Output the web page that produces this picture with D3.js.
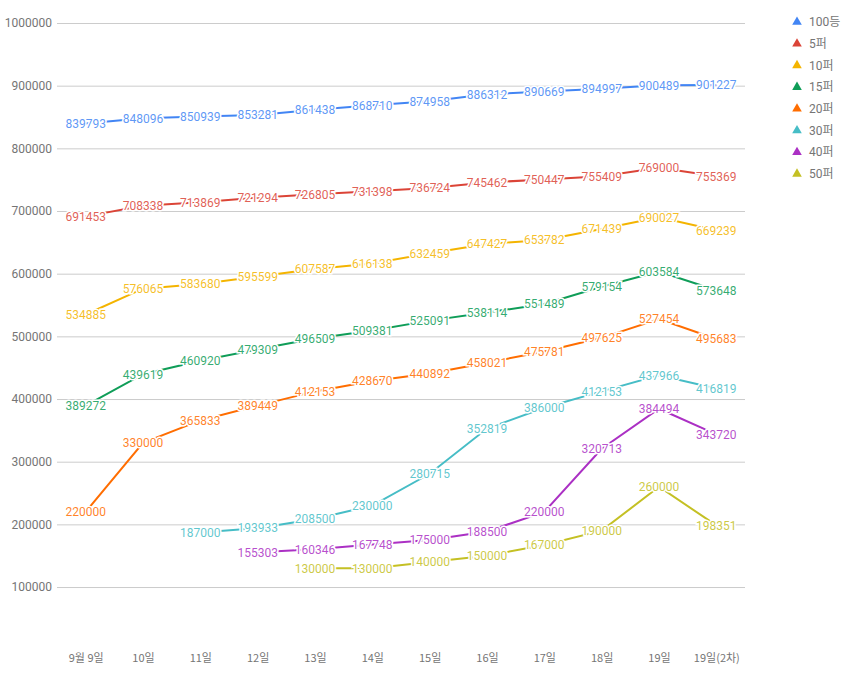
<!DOCTYPE html>
<html>
<head>
<meta charset="utf-8">
<script src="https://cdn.jsdelivr.net/npm/d3@7"></script>
<style>
  html, body { margin: 0; padding: 0; background: #fff; }
  svg { display: block; }
</style>
</head>
<body>
<svg id="chart" width="850" height="673"></svg>
<script>
const categories = ["9월 9일","10일","11일","12일","13일","14일","15일","16일","17일","18일","19일","19일(2차)"];
const seriesNames = ["100등","5퍼","10퍼","15퍼","20퍼","30퍼","40퍼","50퍼"];
const seriesColors = ["#4285F4","#DB4437","#F4B400","#0F9D58","#FF6D00","#46BDC6","#AB30C4","#C4C024"];
const s100 = [839793,848096,850939,853281,861438,868710,874958,886312,890669,894997,900489,901227];
const s5 = [691453,708338,713869,721294,726805,731398,736724,745462,750447,755409,769000,755369];
const s10 = [534885,576065,583680,595599,607587,616138,632459,647427,653782,671439,690027,669239];
const s15 = [389272,439619,460920,479309,496509,509381,525091,538114,551489,579154,603584,573648];
const s20 = [220000,330000,365833,389449,412153,428670,440892,458021,475781,497625,527454,495683];
const s30 = [null,null,187000,193933,208500,230000,280715,352819,386000,412153,437966,416819];
const s40 = [null,null,null,155303,160346,167748,175000,188500,220000,320713,384494,343720];
const s50 = [null,null,null,null,130000,130000,140000,150000,167000,190000,260000,198351];
const yTicks = [100000,200000,300000,400000,500000,600000,700000,800000,900000,1000000];

const allSeries = [s100,s5,s10,s15,s20,s30,s40,s50];

const svg = d3.select("#chart");
const plotLeft = 57, plotRight = 745, plotTop = 23, plotBottom = 649.7;
const x = d3.scalePoint().domain(categories).range([plotLeft, plotRight]).padding(0.5);
const y = d3.scaleLinear().domain([0, 1000000]).range([plotBottom, plotTop]);

// gridlines + y labels
const yAxis = d3.axisLeft(y).tickValues(yTicks).tickSize(-(plotRight - plotLeft)).tickFormat(d => String(d)).tickPadding(5);
const gy = svg.append("g").attr("transform", `translate(${plotLeft},0)`).call(yAxis);
gy.select(".domain").remove();
gy.selectAll(".tick line").attr("stroke", "#cccccc").attr("stroke-width", 1);
gy.selectAll(".tick text").attr("fill", "#757575").style("font-family", "Roboto, sans-serif").style("font-size", "12px");

// x labels
const xAxis = d3.axisBottom(x).tickSize(0).tickPadding(0);
const gx = svg.append("g").attr("transform", `translate(0,654)`).call(xAxis);
gx.select(".domain").remove();
gx.selectAll(".tick text").attr("fill", "#757575").style("font-family", "'Noto Sans CJK KR', sans-serif").style("font-size", "11px").attr("dy", "0.71em");

// lines
const line = d3.line().defined(d => d != null).x((d, i) => x(categories[i])).y(d => y(d));
const gl = svg.append("g");
allSeries.forEach((s, k) => {
  gl.append("path").datum(s).attr("d", line).attr("fill", "none")
    .attr("stroke", seriesColors[k]).attr("stroke-width", 2);
});

// labels
const gt = svg.append("g");
allSeries.forEach((s, k) => {
  s.forEach((v, i) => {
    if (v == null) return;
    gt.append("text")
      .attr("x", x(categories[i])).attr("y", y(v))
      .attr("text-anchor", "middle").attr("dy", "0.36em")
      .attr("fill", seriesColors[k]).attr("fill-opacity", 0.85)
      .attr("stroke", "#ffffff").attr("stroke-width", 3).attr("paint-order", "stroke")
      .style("font-family", "Roboto, sans-serif").style("font-size", "12px")
      .text(String(v));
  });
});

// legend
const lg = svg.append("g");
seriesNames.forEach((n, k) => {
  const yy = 22 + k * 21.7;
  lg.append("path").attr("d", d3.symbol().type(d3.symbolTriangle).size(40)())
    .attr("transform", `translate(797,${yy})`).attr("fill", seriesColors[k]);
  lg.append("text").attr("x", 809).attr("y", yy).attr("dy", "0.35em")
    .attr("fill", "#757575").style("font-family", "Roboto, 'Noto Sans CJK KR', sans-serif").style("font-size", "12px")
    .text(n);
});
</script>
</body>
</html>
